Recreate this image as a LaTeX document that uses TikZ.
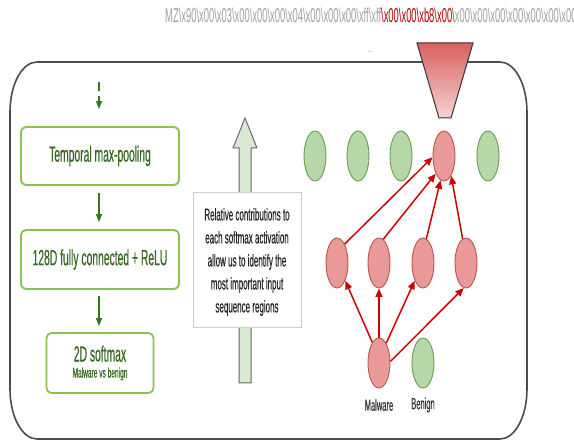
\documentclass[tikz,border=0pt]{standalone}
\usepackage{fontspec}
\setmainfont{Liberation Sans}
\newfontfamily\nf[FakeStretch=0.47,FakeBold=0.35]{Liberation Sans}
\newfontfamily\nfl[FakeStretch=0.47]{Liberation Sans}
\usetikzlibrary{shapes.geometric,arrows.meta}
\definecolor{gfill}{HTML}{B6D7A8}
\definecolor{gline}{HTML}{6A9A4F}
\definecolor{rfill}{HTML}{EA9999}
\definecolor{rline}{HTML}{B85450}
\definecolor{rarrow}{HTML}{CC0000}
\definecolor{boxline}{HTML}{8BC34A}
\definecolor{boxtext}{HTML}{36661F}
\definecolor{darkgreen}{HTML}{38761D}
\definecolor{hollow}{HTML}{D9EAD3}
\definecolor{bytegray}{HTML}{A0A0A0}
\definecolor{bytered}{HTML}{B00000}
\definecolor{trtop}{HTML}{D96060}
\definecolor{trbot}{HTML}{F6D3D3}
\newcommand\hx[1]{\textbackslash x#1}
\begin{document}
\begin{tikzpicture}[x=1pt,y=-1pt,
  gell/.style={ellipse,draw=gline,fill=gfill,line width=0.9pt,minimum width=22pt,minimum height=50pt,inner sep=0pt},
  rell/.style={ellipse,draw=rline,fill=rfill,line width=0.9pt,minimum width=22pt,minimum height=50pt,inner sep=0pt},
  rarr/.style={draw=rarrow,line width=1.5pt,-{Triangle[length=8.5pt,width=7pt]}},
  garr/.style={draw=darkgreen,line width=1.2pt,-{Triangle[length=8pt,width=6pt]}},
  layerbox/.style={draw=boxline,line width=1.8pt,rounded corners=5pt,fill=white,text=boxtext,inner sep=0pt,align=center},
  lbl/.style={text=black!80,font=\nf\fontsize{16}{18}\selectfont,inner sep=0pt}
]
\useasboundingbox (0,0) rectangle (574,441);
\begin{scope}
\clip (0,0) rectangle (574,441);
% byte string
\node[anchor=west,inner sep=0pt,text=bytegray,font=\nfl\fontsize{20}{22}\selectfont] (bytes) at (165,15)
 {MZ\hx{90}\hx{00}\hx{03}\hx{00}\hx{00}\hx{00}\hx{04}\hx{00}\hx{00}\hx{00}\hx{ff}\hx{ff}\textcolor{bytered}{\hx{00}\hx{00}\hx{b8}\hx{00}}\textcolor{darkgreen}{\textbackslash}x00\hx{00}\hx{00}\hx{00}\hx{00}\hx{00}\hx{00}\hx{00}};
\node[text=bytegray,inner sep=0pt,font=\nfl\fontsize{12}{12}\selectfont] (dots) at (370,52) {...};

% outer frame
\draw[draw=black!70,line width=1.6pt] (37,62) -- (500,62) .. controls (514.9,62) and (527,84.4) .. (527,112)
  -- (527,389) .. controls (527,416.6) and (514.9,439) .. (500,439)
  -- (37,439) .. controls (22.1,439) and (10,416.6) .. (10,389)
  -- (10,112) .. controls (10,84.4) and (22.1,62) .. (37,62) -- cycle;

% trapezoid
\path[draw=black!80,line width=1pt,top color=trtop,bottom color=trbot] (417,43) -- (473,43) -- (451,118) -- (439,118) -- cycle;
\end{scope}

% left column
\node[layerbox,minimum width=158pt,minimum height=58pt,font=\nf\fontsize{22}{24}\selectfont] (pool) at (100,156) {Temporal max-pooling};
\node[layerbox,minimum width=158pt,minimum height=59pt,font=\nf\fontsize{22}{24}\selectfont] (fc) at (100,259.5) {128D fully connected + ReLU};
\node[layerbox,minimum width=107pt,minimum height=60pt] (soft) at (100,363)
  {{\nf\fontsize{22}{24}\selectfont 2D softmax}\\[4pt]{\nf\fontsize{14}{16}\selectfont Malware vs benign}};
\coordinate (in) at (99,82);
\draw[garr,dash pattern=on 9pt off 5pt] (in) -- ([xshift=-1pt,yshift=17pt]pool.north);
\draw[garr] ([xshift=-1pt,yshift=-7pt]pool.south) -- ([xshift=-1pt,yshift=7pt]fc.north);
\draw[garr] ([xshift=-1pt,yshift=-6pt]fc.south) -- ([xshift=-1pt,yshift=6pt]soft.north);

% hollow arrow
\draw[draw=black!60,fill=hollow,line width=1pt] (239,383) -- (239,148) -- (233,148) -- (245,118) -- (257,148) -- (251,148) -- (251,383) -- cycle;
\node[draw=black!20,fill=white,line width=0.8pt,minimum width=108pt,minimum height=135pt,inner sep=0pt] (note) at (247,259.5) {};
\node[align=center,text=black!85,inner sep=0pt,font=\nf\fontsize{17}{23}\selectfont] (notetext) at (247,262)
  {Relative contributions to\\each softmax activation\\allow us to identify the\\most important input\\sequence regions};

% network
\node[gell] (t1) at (315,156) {};
\node[gell] (t2) at (358,156) {};
\node[gell] (t3) at (401,156) {};
\node[rell] (t4) at (444,156) {};
\node[gell] (t5) at (488,156) {};
\node[rell] (m1) at (337,263) {};
\node[rell] (m2) at (379,263) {};
\node[rell] (m3) at (423,263) {};
\node[rell] (m4) at (466,263) {};
\node[rell] (mal) at (379,363) {};
\node[gell] (ben) at (423,363) {};
\node[lbl] (mallbl) at (379,405) {Malware};
\node[lbl] (benlbl) at (423,405) {Benign};

\draw[rarr] (m1.68) -- (t4.186);
\draw[rarr] (m2.80) -- (t4.245);
\draw[rarr] (m3.82) -- (t4.262);
\draw[rarr] (m4.98) -- (t4.290);
\draw[rarr] (mal.108) -- (m1.295);
\draw[rarr] (mal.90) -- (m2.270);
\draw[rarr] (mal.70) -- (m3.245);
\draw[rarr] (mal.8) -- (m4.265);
\end{tikzpicture}
\end{document}
